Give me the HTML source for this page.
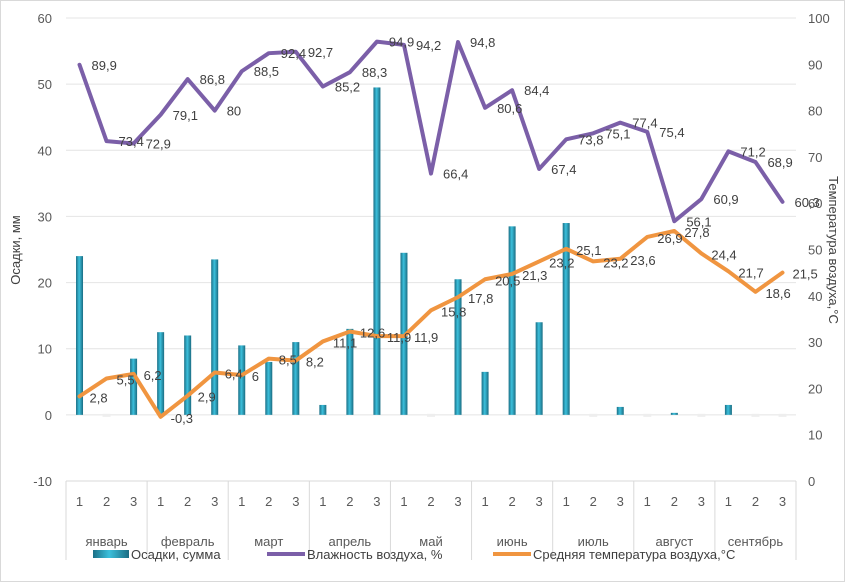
<!DOCTYPE html>
<html><head><meta charset="utf-8"><style>
body{margin:0;background:#fff;}
svg{display:block;font-family:"Liberation Sans","DejaVu Sans",sans-serif;}
</style></head><body>
<svg id="chart" width="845" height="582" viewBox="0 0 845 582">
<defs>
<linearGradient id="barg" x1="0" x2="1" y1="0" y2="0">
<stop offset="0" stop-color="#1b6f86"/><stop offset="0.45" stop-color="#3cc0dc"/><stop offset="1" stop-color="#1a6c82"/>
</linearGradient>
</defs>
<rect x="0.5" y="0.5" width="844" height="581" fill="#fff" stroke="#d9d9d9"/>
<g id="grid"></g><g id="bars"></g><g id="lines"></g><g id="labels"></g><g id="axes"></g>
<text transform="translate(20,250) rotate(-90)" text-anchor="middle" font-size="13" fill="#404040">Осадки, мм</text>
<text transform="translate(829,250) rotate(90)" text-anchor="middle" font-size="13" fill="#404040">Температура воздуха,°С</text>
<g>
<g><rect x="93" y="550" width="36" height="8" fill="url(#barg)"/><text x="131" y="559" font-size="13" fill="#404040">Осадки, сумма</text></g>
<g><line x1="267" y1="554" x2="305" y2="554" stroke="#7b5fa8" stroke-width="4"/><text x="307" y="559" font-size="13" fill="#404040">Влажность воздуха, %</text></g>
<g><line x1="493" y1="554" x2="531" y2="554" stroke="#f09540" stroke-width="4"/><text x="533" y="559" font-size="13" fill="#404040">Средняя температура воздуха,°С</text></g>
</g>
</svg>
<script>
const months=["январь","февраль","март","апрель","май","июнь","июль","август","сентябрь"];
const decades=["1","2","3"];
const precip=[24,0,8.5,12.5,12,23.5,10.5,8,11,1.5,13,49.5,24.5,0,20.5,6.5,28.5,14,29,0,1.2,0,0.3,0,1.5,0,0];
const humidity=[89.9,73.4,72.9,79.1,86.8,80,88.5,92.4,92.7,85.2,88.3,94.9,94.2,66.4,94.8,80.6,84.4,67.4,73.8,75.1,77.4,75.4,56.1,60.9,71.2,68.9,60.3];
const temperature=[2.8,5.5,6.2,-0.3,2.9,6.4,6,8.5,8.2,11.1,12.6,11.9,11.9,15.8,17.8,20.5,21.3,23.2,25.1,23.2,23.6,26.9,27.8,24.4,21.7,18.6,21.5];
const leftTicks=[-10,0,10,20,30,40,50,60];
const rightTicks=[0,10,20,30,40,50,60,70,80,90,100];

const NS="http://www.w3.org/2000/svg";
const X0=66,X1=796,YT=18,YB=481;
const n=precip.length,cw=(X1-X0)/n;
const xc=i=>X0+cw*(i+0.5);
const yL=v=>YB-(v+10)/70*(YB-YT);
const yR=v=>YB-v/100*(YB-YT);
function mk(tag,attrs,parent,txt){const e=document.createElementNS(NS,tag);for(const k in attrs)e.setAttribute(k,attrs[k]);if(txt!==undefined)e.textContent=txt;document.getElementById(parent).appendChild(e);return e;}

leftTicks.forEach(t=>{
  const g=mk("line",{x1:X0,x2:X1,y1:yL(t),y2:yL(t),stroke:t===-10?"#d9d9d9":"#e4e4e4","stroke-width":1},"grid");
  
  
  const l=mk("text",{x:52,y:yL(t)+5,"text-anchor":"end","font-size":13,fill:"#595959"},"axes",String(t));
  
  
});
rightTicks.forEach(t=>{
  const l=mk("text",{x:808,y:yR(t)+5,"font-size":13,fill:"#595959"},"axes",String(t));
  
  
});
for(let m=0;m<=months.length;m++){
  const x=X0+cw*3*m;
  const s=mk("line",{x1:x,x2:x,y1:YB,y2:560,stroke:"#d9d9d9"},"axes");
  
  
}
months.forEach((m,mi)=>{
  const t=mk("text",{x:X0+cw*(mi*3+1.5),y:546,"text-anchor":"middle","font-size":13,fill:"#595959"},"axes",m);
  
  
  decades.forEach((d,di)=>{
    const u=mk("text",{x:xc(mi*3+di),y:506,"text-anchor":"middle","font-size":13,fill:"#595959"},"axes",d);
    
    
  });
});
precip.forEach((v,i)=>{
  let b;
  if(v<0.1){
    b=mk("rect",{x:xc(i)-4,y:yL(0)-1,width:8,height:3,fill:"#eeeeee"},"bars");
  } else {
    const h=Math.max(yL(0)-yL(v),2);
    b=mk("rect",{x:xc(i)-3.5,y:yL(0)-h,width:7,height:h,fill:"url(#barg)"},"bars");
  }
  
  
});
const hp=humidity.map((v,i)=>xc(i)+","+yR(v)).join(" ");
const hl=mk("polyline",{points:hp,fill:"none",stroke:"#7b5fa8","stroke-width":4,"stroke-linejoin":"round","stroke-linecap":"round"},"lines");


const tp=temperature.map((v,i)=>xc(i)+","+yL(v)).join(" ");
const tl=mk("polyline",{points:tp,fill:"none",stroke:"#f09540","stroke-width":4,"stroke-linejoin":"round","stroke-linecap":"round"},"lines");


const fmt=v=>String(v).replace(".",",");
humidity.forEach((v,i)=>{
  const t=mk("text",{x:xc(i)+12,y:yR(v)+5,"font-size":13,fill:"#404040"},"labels",fmt(v));
  
  
});
temperature.forEach((v,i)=>{
  const t=mk("text",{x:xc(i)+10,y:yL(v)+6,"font-size":13,fill:"#404040"},"labels",fmt(v));
  
  
});
</script>
</body></html>
